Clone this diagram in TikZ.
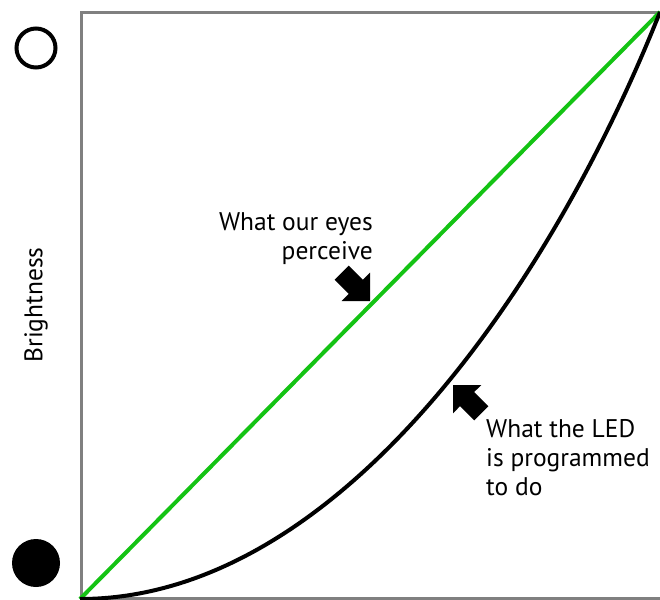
\documentclass[tikz,border=0pt]{standalone}
\usepackage{fontspec}
\setmainfont{PT Sans}
\definecolor{framegray}{RGB}{128,128,128}
\definecolor{linegreen}{RGB}{20,195,20}
\begin{document}
\begin{tikzpicture}[x=1pt,y=-1pt,
  lbl/.style={inner sep=0pt, font=\fontsize{25.5}{29}\selectfont},
  blockarrow/.style={fill=black, draw=none},
  curveline/.style={line width=4pt}]
\useasboundingbox (0,0) rectangle (660,599);
\clip (0,0) rectangle (660,599);
% frame
\draw[framegray, line width=3pt] (81.5,12.5) rectangle (665,598);
% markers
\draw[line width=4pt] (36,48) circle[radius=19.5pt];
\fill (36,563) circle[radius=24pt];
% curves
\draw[linegreen, curveline] (80,599) -- (660,12);
\draw[black, curveline] (80,599) .. controls (335,599) and (549,291) .. (660,12);
% arrows
\fill[blockarrow] (370,301) -- (370,272.7) -- (362.9,279.8) -- (348.8,265.6)
  -- (334.6,279.8) -- (348.8,293.9) -- (341.7,301) -- cycle;
\fill[blockarrow] (453,385) -- (481.3,385) -- (474.2,392) -- (488.4,406.2)
  -- (474.2,420.4) -- (460,406.2) -- (453,413.3) -- cycle;
% labels
\node[lbl, align=right, anchor=north east] (eyes) at (373,212) {What our eyes\\perceive};
\node[lbl, align=left, anchor=north west] (led) at (486,419) {What the LED\\is programmed\\to do};
\node[lbl, rotate=90] (bright) at (36,305) {Brightness};
\end{tikzpicture}
\end{document}
